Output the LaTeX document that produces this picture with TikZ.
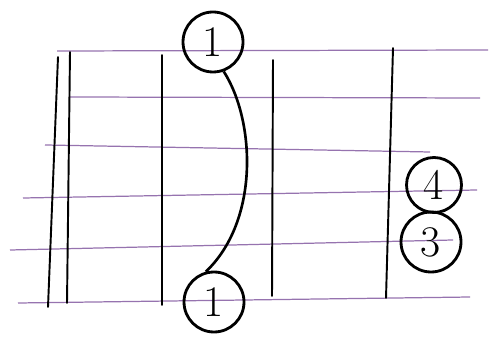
\documentclass[tikz,border=0pt]{standalone}
\usetikzlibrary{positioning, calc}
\definecolor{stringpurple}{RGB}{150,115,175}
\begin{document}
\begin{tikzpicture}[x=0.02cm, y=-0.02cm,
    guitarstring/.style={color=stringpurple, line width=0.7pt},
    fretline/.style={line width=1.1pt, line cap=round},
    finger/.style={circle, draw, line width=1.6pt, minimum size=1.2cm, inner sep=0pt, font=\Huge}]
    \useasboundingbox (0,0) rectangle (489,340);

    % Strings
    \foreach \xa/\ya/\xb/\yb in {57/51/488/50, 70/97/480/98, 45/145/430/152, 23/198/477/190, 10/250/453/240, 18/303/470/297} {
        \draw[guitarstring] (\xa,\ya) -- (\xb,\yb);
    }

    % Nut
    \draw[fretline] (58,57) -- (48,307);
    \draw[fretline] (70,52) -- (67,303);

    % Frets
    \foreach \xa/\ya/\xb/\yb in {162/55/162/305, 273/60/272/296, 393/48/386/298} {
        \draw[fretline] (\xa,\ya) -- (\xb,\yb);
    }

    % Fingers
    \node[finger] (barretop) at (213,42) {1};
    \node[finger] (barrebot) at (214,302) {1};
    \node[finger, minimum size=1.1cm] (four) at (434,185) {4};
    \node[finger] (three) at (431,242) {3};

    % Barre
    \draw[line width=1.5pt] (barretop.-70) .. controls (255,120) and (260,220) .. (barrebot.105);
\end{tikzpicture}
\end{document}
